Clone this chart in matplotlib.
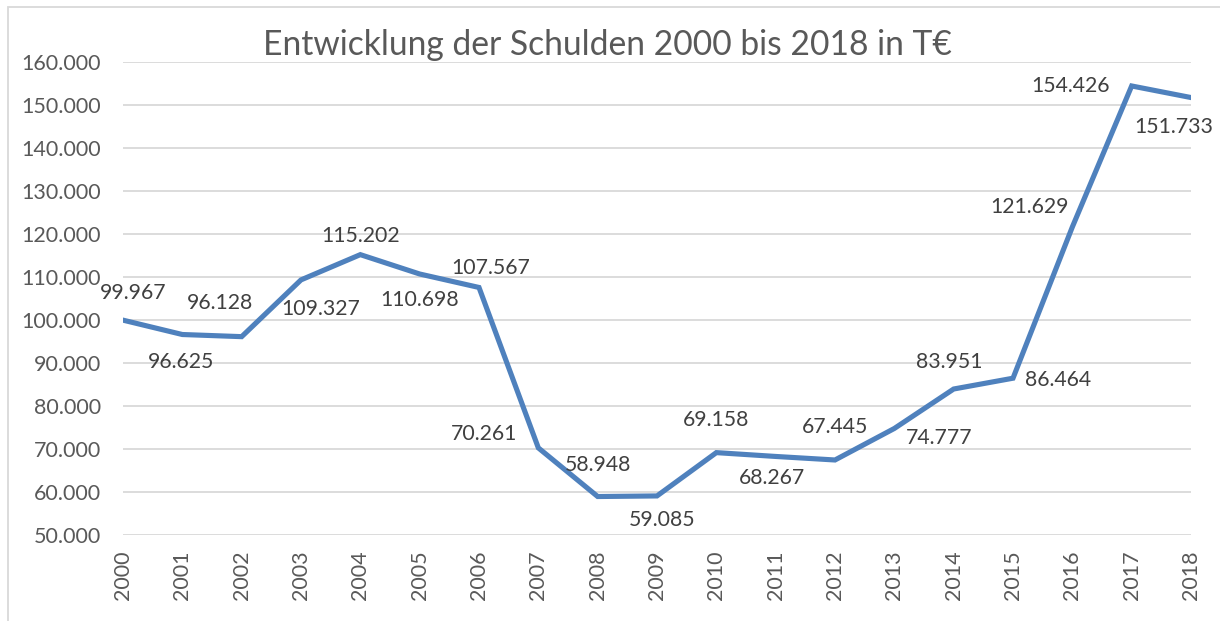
import matplotlib
matplotlib.use("Agg")
import matplotlib.pyplot as plt
from matplotlib.patches import Rectangle
from matplotlib.ticker import FuncFormatter

plt.rcParams['font.family'] = ['Lato', 'DejaVu Sans']

years = [str(y) for y in range(2000, 2019)]
debts = [99967, 96625, 96128, 109327, 115202, 110698, 107567, 70261, 58948, 59085,
         69158, 68267, 67445, 74777, 83951, 86464, 121629, 154426, 151733]
labels = ["99.967", "96.625", "96.128", "109.327", "115.202", "110.698", "107.567",
          "70.261", "58.948", "59.085", "69.158", "68.267", "67.445", "74.777",
          "83.951", "86.464", "121.629", "154.426", "151.733"]
# label offsets from their point, in pixels (x right, y up)
label_dx = [10, -1, -22, 20, 0, 0, 12, -54, 0, 5, 0, -4, 0, 45, -4, 45, -43, -61, -17]
label_dy = [27, -27, 34, -29, 19, -26, 19, 14, 32, -24, 33, -22, 33, -10, 27, -2, 20, 0, -29]

W, H = 1220, 621
fig = plt.figure(figsize=(W / 100, H / 100), dpi=100)
ax = fig.add_axes([123 / W, 1 - 535 / H, (1191 - 123) / W, (535 - 62) / H])

x = list(range(len(years)))
ax.plot(x, debts, color='#4f81bd', lw=3.7, solid_joinstyle='miter', zorder=3)

for xi, yi, lab, dx, dy in zip(x, debts, labels, label_dx, label_dy):
    ax.annotate(lab, (xi, yi), xytext=(dx, dy), textcoords='offset pixels',
                ha='center', va='center', fontsize=15.3, color='#404040', zorder=4)

ax.set_xlim(0, len(years) - 1)
ax.set_ylim(50000, 160000)
ax.set_yticks(range(50000, 160001, 10000))
ax.yaxis.set_major_formatter(FuncFormatter(lambda v, p: f"{int(v):,}".replace(",", ".")))
ax.set_xticks(x)
ax.set_xticklabels(years, rotation=90)

ax.grid(axis='y', color='#d9d9d9', lw=1.3)
ax.set_axisbelow(True)
for s in ax.spines.values():
    s.set_visible(False)
ax.tick_params(axis='both', length=0, labelsize=15.5, labelcolor='#595959')
ax.tick_params(axis='y', pad=16)
ax.tick_params(axis='x', pad=11)

fig.text(607 / W, 1 - 45 / H, "Entwicklung der Schulden 2000 bis 2018 in T€",
         ha='center', va='center', fontsize=24.2, color='#595959')

fig.patches.append(Rectangle((8 / W, -0.1), 1.1, 1 - 7 / H + 0.1, transform=fig.transFigure,
                             fill=False, edgecolor='#d9d9d9', lw=1.3))

fig.savefig("out.png", dpi=100)
